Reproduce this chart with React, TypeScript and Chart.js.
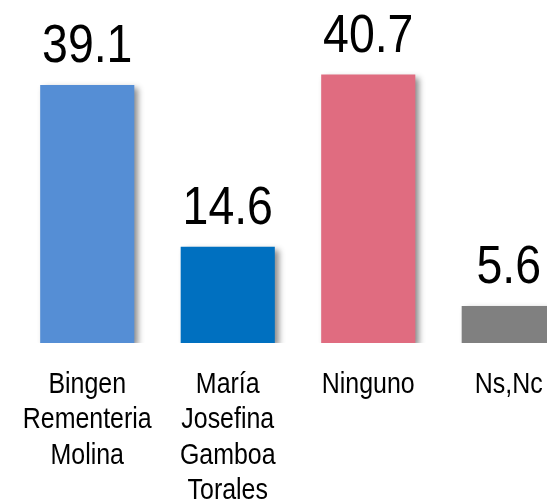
import React, { useEffect, useRef } from "react";
import { Chart, registerables } from "chart.js";

Chart.register(...registerables);

const categories: string[][] = [
  ["Bingen", "Rementeria", "Molina"],
  ["María", "Josefina", "Gamboa", "Torales"],
  ["Ninguno"],
  ["Ns,Nc"],
];
const values: number[] = [39.1, 14.6, 40.7, 5.6];
const barColors: string[] = ["#558ED5", "#0070C0", "#E06C80", "#808080"];
const valueLabels: string[] = ["39.1", "14.6", "40.7", "5.6"];

const FONT = "'Liberation Sans', Arial, sans-serif";
const NARROW = 0.86;

const shadowPlugin = {
  id: "barShadow",
  beforeDatasetsDraw(chart: any) {
    const ctx = chart.ctx;
    ctx.save();
    ctx.shadowColor = "rgba(0,0,0,0.45)";
    ctx.shadowBlur = 6;
    ctx.shadowOffsetX = 4;
    ctx.shadowOffsetY = 3;
  },
  afterDatasetsDraw(chart: any) {
    chart.ctx.restore();
  },
};

const textPlugin = {
  id: "narrowText",
  afterDatasetsDraw(chart: any) {
    const ctx = chart.ctx;
    const meta = chart.getDatasetMeta(0);
    const xScale = chart.scales.x;
    ctx.save();
    ctx.fillStyle = "#000000";
    ctx.textAlign = "center";
    ctx.textBaseline = "alphabetic";
    // value labels
    ctx.font = `54px ${FONT}`;
    meta.data.forEach((bar: any, i: number) => {
      ctx.save();
      ctx.translate(bar.x, bar.y - 23);
      ctx.scale(NARROW, 1);
      ctx.fillText(valueLabels[i], 0, 0);
      ctx.restore();
    });
    // category labels
    ctx.font = `29px ${FONT}`;
    categories.forEach((lines, i) => {
      const x = xScale.getPixelForValue(i);
      lines.forEach((line, j) => {
        ctx.save();
        ctx.translate(x, xScale.top + 50 + j * 35.4);
        ctx.scale(NARROW, 1);
        ctx.fillText(line, 0, 0);
        ctx.restore();
      });
    });
    ctx.restore();
  },
};

export default function App() {
  const ref = useRef<HTMLCanvasElement | null>(null);
  useEffect(() => {
    if (!ref.current) return;
    const chart = new Chart(ref.current, {
      type: "bar",
      data: {
        labels: categories,
        datasets: [
          {
            data: values,
            backgroundColor: barColors,
            borderWidth: 0,
            barPercentage: 0.67,
            categoryPercentage: 1,
          },
        ],
      },
      options: {
        responsive: false,
        animation: false,
        events: [],
        layout: { padding: { left: 17, right: 21, top: 0, bottom: 0 } },
        plugins: {
          legend: { display: false },
          tooltip: { enabled: false },
          title: { display: false },
        },
        scales: {
          x: {
            grid: { display: false, drawTicks: false },
            border: { display: false },
            ticks: { display: false },
            afterFit: (s: any) => {
              s.height = 161;
            },
          },
          y: {
            display: false,
            min: 0,
            max: 52,
          },
        },
      },
      plugins: [shadowPlugin, textPlugin],
    });
    return () => chart.destroy();
  }, []);
  return (
    <div
      style={{
        position: "fixed",
        left: 0,
        top: 0,
        width: 547,
        height: 504,
        overflow: "hidden",
        background: "#ffffff",
      }}
    >
      <canvas ref={ref} width={600} height={504} style={{ display: "block" }} />
    </div>
  );
}
